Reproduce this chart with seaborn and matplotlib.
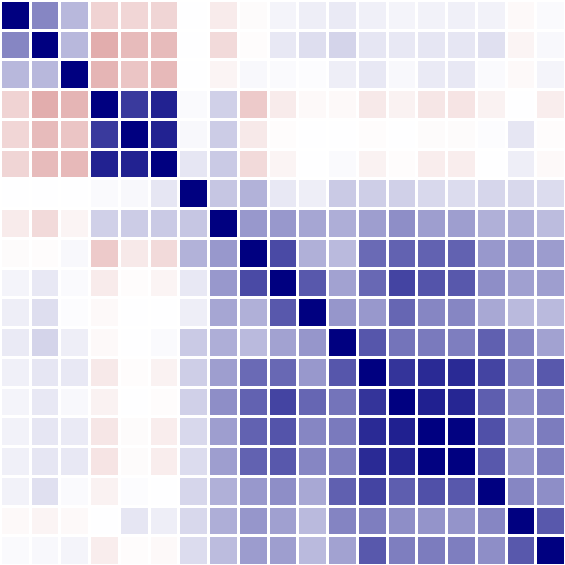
import numpy as np
import pandas as pd
import matplotlib
matplotlib.use("Agg")
import matplotlib.pyplot as plt
import seaborn as sns
from matplotlib.colors import LinearSegmentedColormap

labels = [f"v{i}" for i in range(19)]

# upper-triangle correlations (row i, columns i+1 .. 18)
r0 = [0.47, 0.28, -0.20, -0.18, -0.19, 0.00, -0.09, -0.02, 0.04, 0.07, 0.08, 0.06, 0.04, 0.05, 0.06, 0.05, -0.03, 0.02]
r1 = [0.28, -0.37, -0.31, -0.31, 0.00, -0.17, -0.01, 0.09, 0.13, 0.17, 0.10, 0.09, 0.10, 0.10, 0.12, -0.05, 0.03]
r2 = [-0.33, -0.26, -0.32, 0.00, -0.05, 0.03, 0.02, 0.01, 0.07, 0.09, 0.03, 0.08, 0.09, 0.02, -0.03, 0.04]
r3 = [0.77, 0.86, 0.02, 0.18, -0.24, -0.09, -0.03, -0.03, -0.10, -0.06, -0.11, -0.12, -0.06, 0.00, -0.08]
r4 = [0.86, 0.03, 0.20, -0.10, -0.01, 0.00, 0.00, -0.01, 0.00, -0.02, -0.02, 0.01, 0.10, -0.01]
r5 = [0.10, 0.21, -0.17, -0.05, 0.00, 0.02, -0.06, -0.01, -0.08, -0.08, 0.00, 0.07, -0.03]
r6 = [0.22, 0.30, 0.09, 0.07, 0.21, 0.19, 0.18, 0.15, 0.14, 0.16, 0.15, 0.14]
r7 = [0.40, 0.40, 0.35, 0.32, 0.38, 0.44, 0.38, 0.38, 0.31, 0.32, 0.26]
r8 = [0.71, 0.31, 0.27, 0.58, 0.61, 0.61, 0.61, 0.40, 0.41, 0.39]
r9 = [0.65, 0.36, 0.59, 0.73, 0.67, 0.65, 0.44, 0.37, 0.38]
r10 = [0.41, 0.40, 0.60, 0.47, 0.47, 0.34, 0.27, 0.27]
r11 = [0.66, 0.54, 0.52, 0.50, 0.62, 0.48, 0.36]
r12 = [0.79, 0.83, 0.83, 0.73, 0.50, 0.65]
r13 = [0.87, 0.85, 0.63, 0.44, 0.50]
r14 = [0.99, 0.68, 0.42, 0.51]
r15 = [0.65, 0.42, 0.50]
r16 = [0.47, 0.44]
r17 = [0.65]

rows = [r0, r1, r2, r3, r4, r5, r6, r7, r8, r9, r10, r11, r12, r13, r14, r15, r16, r17]
n = len(labels)
mat = np.eye(n)
for i, r in enumerate(rows):
    for k, v in enumerate(r):
        j = i + 1 + k
        mat[i, j] = v
        mat[j, i] = v
df = pd.DataFrame(mat, index=labels, columns=labels)

cmap = LinearSegmentedColormap.from_list("rwn", ["#b22222", "white", "navy"])

fig = plt.figure(figsize=(5.65, 5.65), dpi=100)
ax = fig.add_axes([0, 0, 1, 1])
sns.heatmap(df, ax=ax, cmap=cmap, vmin=-1, vmax=1, cbar=False,
            linewidths=1.0, linecolor="white", square=False,
            xticklabels=False, yticklabels=False)
ax.set_xlabel("")
ax.set_ylabel("")
fig.savefig("out.png", dpi=100)
